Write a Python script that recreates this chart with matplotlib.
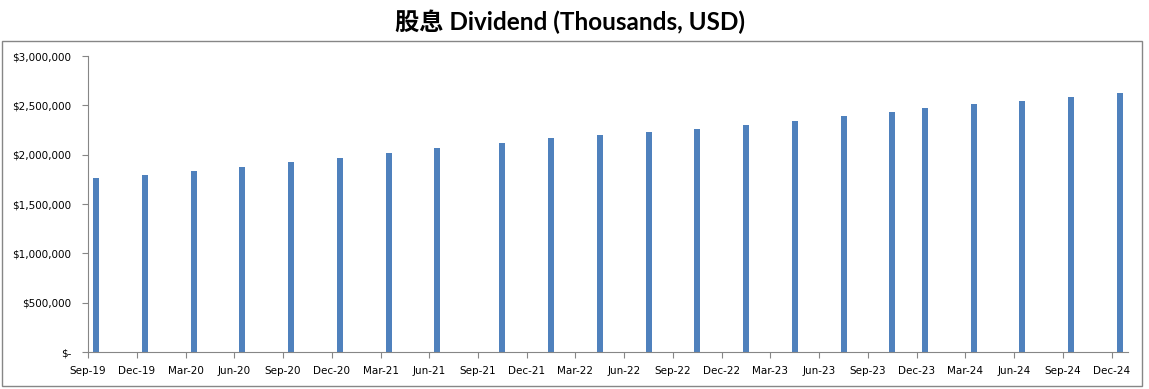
import matplotlib
matplotlib.use("Agg")
import matplotlib.pyplot as plt
from matplotlib.patches import Rectangle
from matplotlib.ticker import FuncFormatter

# 派息月份 (Excel 日期轴, 按月)
months = ["2019-09", "2019-12", "2020-03", "2020-06", "2020-09", "2020-12",
          "2021-03", "2021-06", "2021-10", "2022-01", "2022-04", "2022-07",
          "2022-10", "2023-01", "2023-04", "2023-07", "2023-10", "2023-12",
          "2024-03", "2024-06", "2024-09", "2024-12"]
# 股息 (千美元)
dividend = [1763000, 1797000, 1834000, 1875000, 1926000, 1966000,
            2017000, 2067000, 2118000, 2169000, 2199000, 2230000,
            2260000, 2301000, 2341000, 2392000, 2433000, 2473000,
            2514000, 2544000, 2585000, 2625000]
tick_labels = ["Sep-19", "Dec-19", "Mar-20", "Jun-20", "Sep-20", "Dec-20",
               "Mar-21", "Jun-21", "Sep-21", "Dec-21", "Mar-22", "Jun-22",
               "Sep-22", "Dec-22", "Mar-23", "Jun-23", "Sep-23", "Dec-23",
               "Mar-24", "Jun-24", "Sep-24", "Dec-24"]
y_ticks = [0, 500000, 1000000, 1500000, 2000000, 2500000, 3000000]


def month_index(s):
    y, m = s.split("-")
    return (int(y) - 2019) * 12 + int(m) - 9


x = [month_index(m) + 0.5 for m in months]

fig = plt.figure(figsize=(11.49, 3.89), dpi=100)
ax = fig.add_axes([0.0766, 0.0951, 0.9051, 0.7609])

ax.bar(x, dividend, width=0.38, color="#4F81BD")

ax.set_xlim(0, 64)
ax.set_ylim(0, 3000000)
ax.set_xticks([3 * i for i in range(len(tick_labels))])
ax.set_xticklabels(tick_labels, fontsize=7.5)
ax.set_yticks(y_ticks)
ax.yaxis.set_major_formatter(FuncFormatter(lambda v, p: "$-" if v == 0 else "${:,.0f}".format(v)))
for lbl in ax.get_yticklabels():
    lbl.set_fontsize(7.5)

for s in ["top", "right"]:
    ax.spines[s].set_visible(False)
for s in ["left", "bottom"]:
    ax.spines[s].set_color("#868686")
ax.tick_params(axis="both", colors="#868686", labelcolor="black", length=4, direction="out")
ax.tick_params(axis="x", pad=6)
ax.tick_params(axis="y", pad=8)

# 外框
fig.patches.append(Rectangle((2 / 1149, 3 / 389), 1140 / 1149, 345 / 389,
                             transform=fig.transFigure, fill=False,
                             edgecolor="#868686", linewidth=1))

fig.text(0.496, 0.945, "股息 Dividend (Thousands, USD)", ha="center", va="center",
         fontsize=17.5, fontweight="bold", family=["Lato", "Noto Sans CJK SC"])

fig.savefig("out.png", dpi=100)
